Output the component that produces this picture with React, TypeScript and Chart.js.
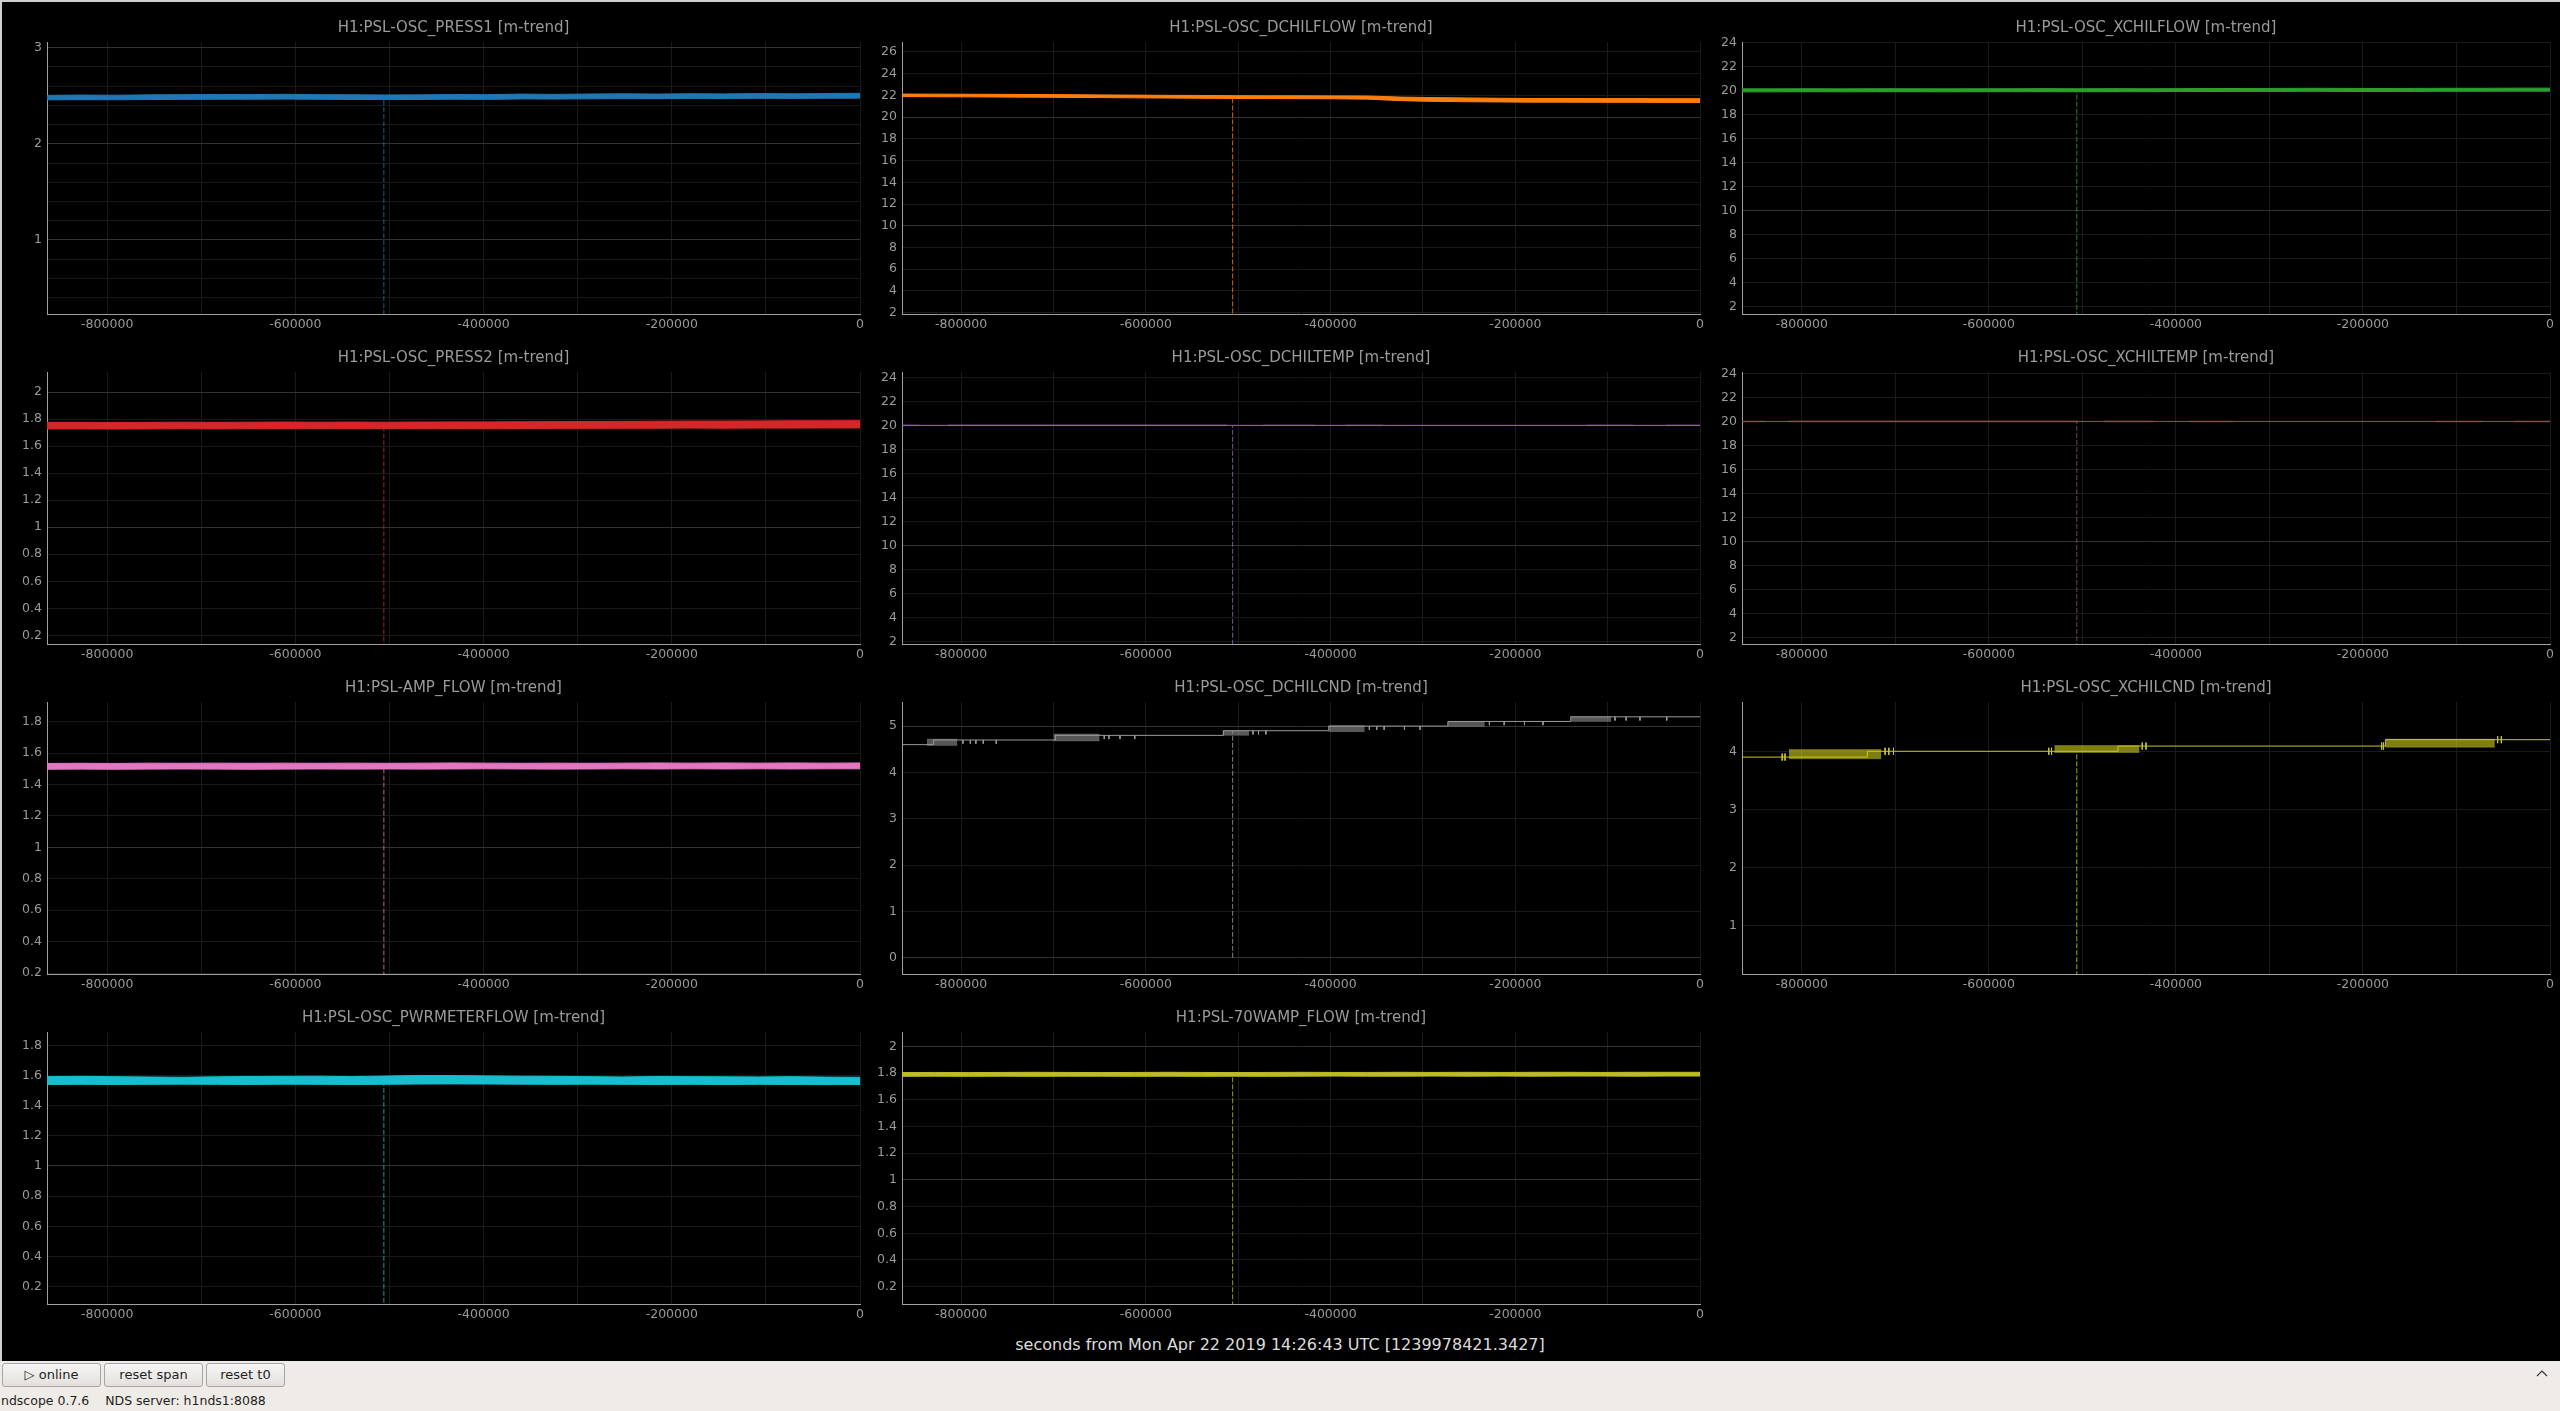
import React, { useEffect, useRef } from "react";
import { Chart, registerables } from "chart.js";

Chart.register(...registerables);

// ---------------- data ----------------
const X_MIN = -864000;
const X_MAX = 0;
const X_TICKS = [-800000, -700000, -600000, -500000, -400000, -300000, -200000, -100000, 0];
const X_LABEL_STEP = 200000;
const CURSOR_T = -506000;

const TIMES = [-864000, -828000, -792000, -756000, -720000, -684000, -648000, -612000, -576000, -540000, -504000, -468000, -432000, -396000, -360000, -324000, -288000, -252000, -216000, -180000, -144000, -108000, -72000, -36000, 0];

const PRESS1_HI = [2.505, 2.508, 2.506, 2.510, 2.512, 2.514, 2.513, 2.516, 2.512, 2.511, 2.509, 2.510, 2.514, 2.512, 2.518, 2.515, 2.519, 2.521, 2.518, 2.522, 2.520, 2.524, 2.521, 2.524, 2.526];
const PRESS1_LO = [2.458, 2.460, 2.459, 2.461, 2.463, 2.464, 2.465, 2.466, 2.464, 2.462, 2.461, 2.462, 2.465, 2.463, 2.468, 2.466, 2.469, 2.471, 2.470, 2.473, 2.472, 2.474, 2.473, 2.475, 2.476];

const DCHILFLOW_HI = [22.13, 22.12, 22.11, 22.10, 22.08, 22.07, 22.05, 22.03, 22.01, 22.00, 21.98, 21.97, 21.97, 21.96, 21.95, 21.85, 21.80, 21.77, 21.74, 21.72, 21.72, 21.71, 21.71, 21.70, 21.70];
const DCHILFLOW_LO = [21.89, 21.88, 21.87, 21.85, 21.84, 21.82, 21.80, 21.78, 21.76, 21.74, 21.72, 21.71, 21.70, 21.69, 21.66, 21.52, 21.45, 21.42, 21.40, 21.38, 21.38, 21.37, 21.37, 21.36, 21.36];

const XCHILFLOW_HI = [20.17, 20.17, 20.18, 20.17, 20.18, 20.18, 20.17, 20.18, 20.18, 20.19, 20.18, 20.19, 20.18, 20.19, 20.20, 20.20, 20.21, 20.22, 20.21, 20.20, 20.21, 20.22, 20.22, 20.23, 20.23];
const XCHILFLOW_LO = [19.92, 19.92, 19.93, 19.92, 19.93, 19.93, 19.92, 19.93, 19.94, 19.94, 19.93, 19.94, 19.94, 19.95, 19.95, 19.96, 19.96, 19.97, 19.95, 19.95, 19.96, 19.97, 19.97, 19.98, 19.98];

const PRESS2_HI = [1.776, 1.776, 1.775, 1.776, 1.777, 1.776, 1.777, 1.778, 1.777, 1.778, 1.777, 1.778, 1.779, 1.779, 1.780, 1.781, 1.782, 1.783, 1.784, 1.785, 1.785, 1.786, 1.787, 1.787, 1.788];
const PRESS2_LO = [1.727, 1.727, 1.726, 1.727, 1.728, 1.727, 1.728, 1.729, 1.728, 1.729, 1.728, 1.729, 1.730, 1.729, 1.730, 1.731, 1.731, 1.732, 1.732, 1.733, 1.732, 1.733, 1.733, 1.734, 1.734];

const AMPFLOW_HI = [1.534, 1.535, 1.534, 1.536, 1.535, 1.536, 1.535, 1.536, 1.535, 1.536, 1.535, 1.536, 1.537, 1.536, 1.535, 1.536, 1.535, 1.536, 1.537, 1.536, 1.537, 1.536, 1.537, 1.536, 1.537];
const AMPFLOW_LO = [1.497, 1.498, 1.497, 1.498, 1.499, 1.498, 1.497, 1.498, 1.499, 1.498, 1.499, 1.498, 1.499, 1.500, 1.499, 1.498, 1.499, 1.500, 1.499, 1.500, 1.499, 1.500, 1.499, 1.500, 1.500];

const PWRMETER_HI = [1.592, 1.594, 1.592, 1.590, 1.588, 1.591, 1.593, 1.594, 1.595, 1.592, 1.596, 1.600, 1.599, 1.597, 1.595, 1.594, 1.592, 1.590, 1.593, 1.592, 1.591, 1.590, 1.592, 1.589, 1.588];
const PWRMETER_LO = [1.540, 1.541, 1.540, 1.541, 1.542, 1.541, 1.540, 1.542, 1.541, 1.540, 1.541, 1.543, 1.544, 1.543, 1.542, 1.541, 1.542, 1.541, 1.540, 1.541, 1.540, 1.541, 1.540, 1.539, 1.540];

const AMP70W_HI = [1.804, 1.805, 1.804, 1.805, 1.806, 1.805, 1.804, 1.805, 1.806, 1.805, 1.804, 1.805, 1.806, 1.805, 1.805, 1.806, 1.805, 1.806, 1.805, 1.806, 1.806, 1.805, 1.806, 1.806, 1.806];
const AMP70W_LO = [1.776, 1.777, 1.776, 1.777, 1.776, 1.777, 1.777, 1.776, 1.777, 1.776, 1.777, 1.776, 1.777, 1.778, 1.777, 1.777, 1.778, 1.777, 1.778, 1.777, 1.778, 1.778, 1.777, 1.778, 1.778];

// DCHILTEMP: constant level with noisy stretches
const DCHILTEMP_STEP_T = [-864000];
const DCHILTEMP_LEVELS = [20.0];
const DCHILTEMP_CL_START = [-864000, -814000, -473000, -384000, -123000, -37000];
const DCHILTEMP_CL_END = [-845000, -512000, -417000, -343000, -72000, 0];
const DCHILTEMP_CL_LO = [19.95, 19.94, 19.95, 19.95, 19.95, 19.95];
const DCHILTEMP_CL_HI = [20.06, 20.08, 20.06, 20.06, 20.06, 20.06];

const XCHILTEMP_STEP_T = [-864000];
const XCHILTEMP_LEVELS = [20.0];
const XCHILTEMP_CL_START = [-864000, -815000, -477000, -386000, -122000, -39000];
const XCHILTEMP_CL_END = [-839000, -504000, -424000, -339000, -72000, 0];
const XCHILTEMP_CL_LO = [19.94, 19.93, 19.94, 19.94, 19.94, 19.94];
const XCHILTEMP_CL_HI = [20.06, 20.08, 20.07, 20.06, 20.06, 20.06];

// DCHILCND: stepped level with bursts
const DCHILCND_STEP_T = [-864000, -830000, -698000, -516000, -402000, -273000, -140000];
const DCHILCND_LEVELS = [4.6, 4.7, 4.8, 4.9, 5.0, 5.1, 5.2];
const DCHILCND_CL_START = [-837000, -700000, -517000, -402000, -273000, -140000];
const DCHILCND_CL_END = [-804000, -650000, -488000, -363000, -233000, -96000];
const DCHILCND_CL_LO = [4.58, 4.68, 4.80, 4.88, 4.99, 5.10];
const DCHILCND_CL_HI = [4.72, 4.83, 4.90, 5.01, 5.10, 5.20];
const DCHILCND_SPIKES = [-798000, -790000, -784000, -776000, -762000, -645000, -640000, -628000, -612000, -484000, -478000, -470000, -358000, -350000, -342000, -320000, -303000, -228000, -212000, -190000, -170000, -92000, -80000, -65000, -36000];

// XCHILCND
const XCHILCND_STEP_T = [-864000, -730000, -462000, -176000];
const XCHILCND_LEVELS = [3.9, 4.0, 4.09, 4.2];
const XCHILCND_CL_START = [-814000, -530000, -176000];
const XCHILCND_CL_END = [-715000, -439000, -59000];
const XCHILCND_CL_LO = [3.87, 3.98, 4.07];
const XCHILCND_CL_HI = [4.03, 4.10, 4.21];
const XCHILCND_SPIKES = [-821000, -818000, -711000, -707000, -702000, -536000, -533000, -436000, -432000, -180000, -178000, -56000, -52000];

const BOTTOM_LABEL = "seconds from Mon Apr 22 2019 14:26:43 UTC [1239978421.3427]";
const STATUS_TEXT = "ndscope 0.7.6    NDS server: h1nds1:8088";
const BUTTONS = ["\u25B7 online", "reset span", "reset t0"];

type Channel = {
  name: string;
  color: string;
  yMin: number;
  yMax: number;
  gridStep: number;
  labelStep: number;
  majorStep: number;
  hi?: number[];
  lo?: number[];
  stepT?: number[];
  levels?: number[];
  clStart?: number[];
  clEnd?: number[];
  clLo?: number[];
  clHi?: number[];
  clAlpha?: string;
  spikes?: number[];
  spikeUp?: number;
  spikeDown?: number;
};

const CHANNELS: Channel[] = [
  { name: "H1:PSL-OSC_PRESS1 [m-trend]", color: "#1f77b4", yMin: 0.23, yMax: 3.06, gridStep: 0.2, labelStep: 1, majorStep: 1, hi: PRESS1_HI, lo: PRESS1_LO },
  { name: "H1:PSL-OSC_DCHILFLOW [m-trend]", color: "#ff7f0e", yMin: 1.88, yMax: 26.92, gridStep: 2, labelStep: 2, majorStep: 10, hi: DCHILFLOW_HI, lo: DCHILFLOW_LO },
  { name: "H1:PSL-OSC_XCHILFLOW [m-trend]", color: "#2ca02c", yMin: 1.39, yMax: 24.08, gridStep: 2, labelStep: 2, majorStep: 10, hi: XCHILFLOW_HI, lo: XCHILFLOW_LO },
  { name: "H1:PSL-OSC_PRESS2 [m-trend]", color: "#d62728", yMin: 0.136, yMax: 2.148, gridStep: 0.2, labelStep: 0.2, majorStep: 1, hi: PRESS2_HI, lo: PRESS2_LO },
  { name: "H1:PSL-OSC_DCHILTEMP [m-trend]", color: "#9467bd", yMin: 1.81, yMax: 24.44, gridStep: 2, labelStep: 2, majorStep: 10, stepT: DCHILTEMP_STEP_T, levels: DCHILTEMP_LEVELS, clStart: DCHILTEMP_CL_START, clEnd: DCHILTEMP_CL_END, clLo: DCHILTEMP_CL_LO, clHi: DCHILTEMP_CL_HI, clAlpha: "50" },
  { name: "H1:PSL-OSC_XCHILTEMP [m-trend]", color: "#8c564b", yMin: 1.5, yMax: 24.11, gridStep: 2, labelStep: 2, majorStep: 10, stepT: XCHILTEMP_STEP_T, levels: XCHILTEMP_LEVELS, clStart: XCHILTEMP_CL_START, clEnd: XCHILTEMP_CL_END, clLo: XCHILTEMP_CL_LO, clHi: XCHILTEMP_CL_HI, clAlpha: "50" },
  { name: "H1:PSL-AMP_FLOW [m-trend]", color: "#e377c2", yMin: 0.194, yMax: 1.925, gridStep: 0.2, labelStep: 0.2, majorStep: 1, hi: AMPFLOW_HI, lo: AMPFLOW_LO },
  { name: "H1:PSL-OSC_DCHILCND [m-trend]", color: "#9a9a9a", yMin: -0.35, yMax: 5.52, gridStep: 1, labelStep: 1, majorStep: 5, stepT: DCHILCND_STEP_T, levels: DCHILCND_LEVELS, clStart: DCHILCND_CL_START, clEnd: DCHILCND_CL_END, clLo: DCHILCND_CL_LO, clHi: DCHILCND_CL_HI, clAlpha: "90", spikes: DCHILCND_SPIKES, spikeUp: 0, spikeDown: 0.08 },
  { name: "H1:PSL-OSC_XCHILCND [m-trend]", color: "#c9c91f", yMin: 0.16, yMax: 4.85, gridStep: 1, labelStep: 1, majorStep: 5, stepT: XCHILCND_STEP_T, levels: XCHILCND_LEVELS, clStart: XCHILCND_CL_START, clEnd: XCHILCND_CL_END, clLo: XCHILCND_CL_LO, clHi: XCHILCND_CL_HI, clAlpha: "a0", spikes: XCHILCND_SPIKES, spikeUp: 0.06, spikeDown: 0.06 },
  { name: "H1:PSL-OSC_PWRMETERFLOW [m-trend]", color: "#17becf", yMin: 0.085, yMax: 1.888, gridStep: 0.2, labelStep: 0.2, majorStep: 1, hi: PWRMETER_HI, lo: PWRMETER_LO },
  { name: "H1:PSL-70WAMP_FLOW [m-trend]", color: "#bcbd22", yMin: 0.07, yMax: 2.108, gridStep: 0.2, labelStep: 0.2, majorStep: 1, hi: AMP70W_HI, lo: AMP70W_LO },
];

// ---------------- layout ----------------
const COL_PLOT_LEFT = [47, 902, 1742];
const COL_PLOT_RIGHT = [860, 1700, 2550];
const ROW_PLOT_TOP = [42, 372, 702, 1032];
const ROW_PLOT_BOTTOM = [314, 644, 974, 1304];
const Y_AXIS_W = 45;
const TOP_PAD = 30;
const X_AXIS_H = 22;
const RIGHT_PAD = 12;

const FONT = "DejaVu Sans";
const TICK_COLOR = "#9a9a9a";
const MINOR_GRID = "#1a1a1a";
const MAJOR_GRID = "#333333";
const AXIS_COLOR = "#a0a0a0";

function isMultiple(v: number, step: number) {
  const r = v / step;
  return Math.abs(r - Math.round(r)) < 1e-6;
}

function fmt(v: number) {
  return String(Number(v.toFixed(4)));
}

function levelAt(ch: Channel, t: number) {
  const st = ch.stepT!;
  let idx = 0;
  for (let i = 0; i < st.length; i++) if (st[i] <= t) idx = i;
  return ch.levels![idx];
}

function buildDatasets(ch: Channel) {
  const ds: any[] = [];
  const base = { pointRadius: 0, borderWidth: 1, tension: 0, spanGaps: false };
  let cursorTop = 0;
  if (ch.hi && ch.lo) {
    ds.push({ ...base, data: TIMES.map((t, i) => ({ x: t, y: ch.hi![i] })), borderColor: ch.color, fill: false });
    ds.push({ ...base, data: TIMES.map((t, i) => ({ x: t, y: ch.lo![i] })), borderColor: ch.color, backgroundColor: ch.color, fill: "-1" });
    let best = 0;
    TIMES.forEach((t, i) => {
      if (Math.abs(t - CURSOR_T) < Math.abs(TIMES[best] - CURSOR_T)) best = i;
    });
    cursorTop = ch.lo[best];
  } else {
    const st = ch.stepT!;
    const lv = ch.levels!;
    const pts: any[] = [];
    for (let i = 0; i < st.length; i++) {
      const end = i + 1 < st.length ? st[i + 1] : X_MAX;
      pts.push({ x: st[i], y: lv[i] });
      pts.push({ x: end, y: lv[i] });
    }
    ds.push({ ...base, data: pts, borderColor: ch.color, fill: false });
    const cs = ch.clStart || [];
    const edge = ch.color + (ch.clAlpha || "c0");
    for (let k = 0; k < cs.length; k++) {
      ds.push({ ...base, borderWidth: 0.5, data: [{ x: cs[k], y: ch.clHi![k] }, { x: ch.clEnd![k], y: ch.clHi![k] }], borderColor: edge, fill: false });
      ds.push({ ...base, borderWidth: 0.5, data: [{ x: cs[k], y: ch.clLo![k] }, { x: ch.clEnd![k], y: ch.clLo![k] }], borderColor: edge, backgroundColor: edge, fill: "-1" });
    }
    if (ch.spikes) {
      const sp: any[] = [];
      ch.spikes.forEach((t) => {
        const l = levelAt(ch, t);
        sp.push({ x: t, y: l + (ch.spikeUp || 0) });
        sp.push({ x: t, y: l - (ch.spikeDown || 0) });
        sp.push({ x: t, y: null });
      });
      ds.push({ ...base, data: sp, borderColor: ch.color, fill: false });
    }
    cursorTop = levelAt(ch, CURSOR_T);
  }
  ds.push({ ...base, data: [{ x: CURSOR_T, y: 0 }, { x: CURSOR_T, y: cursorTop }], borderColor: ch.color + "d0", borderDash: [5, 2], fill: false });
  return ds;
}

function makeConfig(ch: Channel): any {
  const titlePlugin = {
    id: "scopeTitle",
    afterDraw(chart: any) {
      const { ctx, chartArea } = chart;
      ctx.save();
      ctx.font = `15px "${FONT}"`;
      ctx.fillStyle = TICK_COLOR;
      ctx.textAlign = "center";
      ctx.textBaseline = "middle";
      ctx.fillText(ch.name, (chartArea.left + chartArea.right) / 2, chartArea.top - 14);
      ctx.restore();
    },
  };
  return {
    type: "line",
    data: { datasets: buildDatasets(ch) },
    plugins: [titlePlugin],
    options: {
      animation: false,
      responsive: true,
      maintainAspectRatio: false,
      events: [],
      layout: { padding: { top: TOP_PAD, right: RIGHT_PAD, left: 0, bottom: 0 } },
      plugins: { legend: { display: false }, tooltip: { enabled: false }, title: { display: false } },
      scales: {
        x: {
          type: "linear",
          min: X_MIN,
          max: X_MAX,
          afterBuildTicks: (s: any) => {
            s.ticks = X_TICKS.map((v) => ({ value: v }));
          },
          afterFit: (s: any) => {
            s.height = X_AXIS_H;
          },
          ticks: {
            autoSkip: false,
            maxRotation: 0,
            minRotation: 0,
            padding: 3,
            color: TICK_COLOR,
            font: { family: FONT, size: 12.5 },
            callback: (v: number) => (isMultiple(v, X_LABEL_STEP) ? String(v) : ""),
          },
          grid: { color: MINOR_GRID, drawTicks: false, lineWidth: 1 },
          border: { color: AXIS_COLOR, width: 1 },
        },
        y: {
          type: "linear",
          min: ch.yMin,
          max: ch.yMax,
          afterBuildTicks: (s: any) => {
            const ticks: any[] = [];
            const start = Math.ceil(ch.yMin / ch.gridStep - 1e-9);
            for (let k = start; k * ch.gridStep <= ch.yMax + 1e-9; k++) {
              ticks.push({ value: Number((k * ch.gridStep).toFixed(6)) });
            }
            s.ticks = ticks;
          },
          afterFit: (s: any) => {
            s.width = Y_AXIS_W;
          },
          ticks: {
            autoSkip: false,
            padding: 5,
            color: TICK_COLOR,
            font: { family: FONT, size: 12.5 },
            callback: (v: number) => (isMultiple(v, ch.labelStep) ? fmt(v) : ""),
          },
          grid: {
            drawTicks: false,
            lineWidth: 1,
            color: (ctx: any) => (ctx.tick && isMultiple(ctx.tick.value, ch.majorStep) ? MAJOR_GRID : MINOR_GRID),
          },
          border: { color: AXIS_COLOR, width: 1 },
        },
      },
    },
  };
}

function ScopePlot({ ch, col, row }: { ch: Channel; col: number; row: number }) {
  const ref = useRef<HTMLCanvasElement>(null);
  useEffect(() => {
    const chart = new Chart(ref.current as HTMLCanvasElement, makeConfig(ch));
    return () => chart.destroy();
  }, [ch]);
  const left = COL_PLOT_LEFT[col] - Y_AXIS_W;
  const top = ROW_PLOT_TOP[row] - TOP_PAD;
  const width = COL_PLOT_RIGHT[col] - COL_PLOT_LEFT[col] + Y_AXIS_W + RIGHT_PAD;
  const height = ROW_PLOT_BOTTOM[row] - ROW_PLOT_TOP[row] + TOP_PAD + X_AXIS_H;
  return (
    <div style={{ position: "absolute", left, top, width, height }}>
      <canvas ref={ref} />
    </div>
  );
}

const BUTTON_X = [2, 104, 206];
const BUTTON_W = [99, 99, 79];

export default function App() {
  useEffect(() => {
    document.body.style.margin = "0";
    document.body.style.overflow = "hidden";
  }, []);
  return (
    <div style={{ position: "absolute", left: 0, top: 0, width: 2560, height: 1411, background: "#efebe7", overflow: "hidden", fontFamily: FONT }}>
      <div style={{ position: "absolute", left: 0, top: 0, width: 2560, height: 1361, background: "#000", borderTop: "2px solid #cfcfcf", borderLeft: "2px solid #cfcfcf", boxSizing: "border-box" }} />
      {CHANNELS.map((ch, i) => (
        <ScopePlot key={ch.name} ch={ch} col={i % 3} row={Math.floor(i / 3)} />
      ))}
      <div style={{ position: "absolute", left: 0, top: 1334, width: 2560, textAlign: "center", color: "#dcdcdc", fontSize: 16, lineHeight: "22px", fontFamily: FONT }}>
        {BOTTOM_LABEL}
      </div>
      {BUTTONS.map((b, i) => (
        <div
          key={b}
          style={{
            position: "absolute",
            left: BUTTON_X[i],
            top: 1363,
            width: BUTTON_W[i],
            height: 24,
            boxSizing: "border-box",
            border: "1px solid #a9a5a0",
            borderRadius: 3,
            background: "linear-gradient(#f7f6f5, #e3e0dc)",
            color: "#1e1e1e",
            fontSize: 13,
            lineHeight: "22px",
            textAlign: "center",
            fontFamily: FONT,
          }}
        >
          {b}
        </div>
      ))}
      <div style={{ position: "absolute", left: 1, top: 1392, color: "#1e1e1e", fontSize: 12.5, lineHeight: "18px", whiteSpace: "pre", fontFamily: FONT }}>
        {STATUS_TEXT}
      </div>
      <svg style={{ position: "absolute", left: 2536, top: 1369 }} width="12" height="8">
        <polyline points="1,7 6,2 11,7" fill="none" stroke="#333" strokeWidth="1.2" />
      </svg>
    </div>
  );
}
